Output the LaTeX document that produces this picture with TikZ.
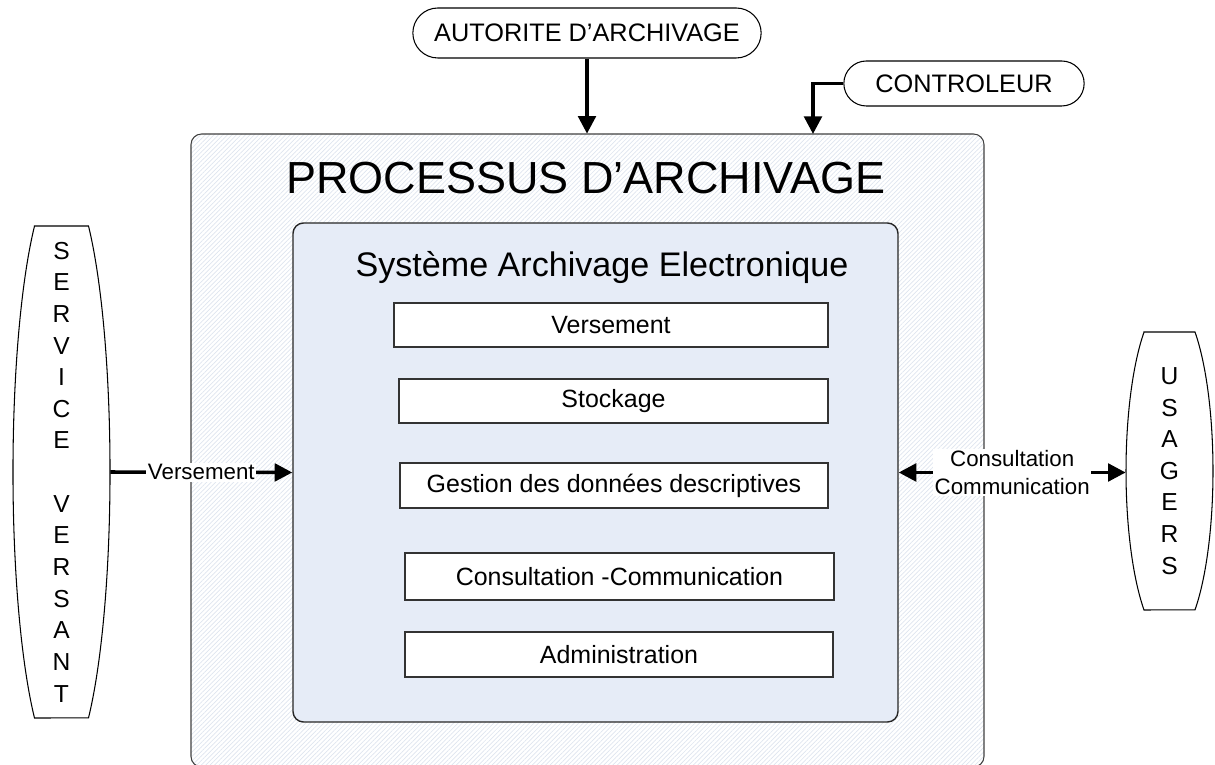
\documentclass[tikz,border=0pt]{standalone}
\usepackage{fontspec}
\setmainfont{Liberation Sans}
\usetikzlibrary{arrows.meta,shapes.misc,patterns.meta}

\definecolor{saeblue}{RGB}{230,236,247}
\definecolor{hatch}{RGB}{222,228,238}

\begin{document}
\begin{tikzpicture}[
  outerbox/.style={draw=black!75, line width=0.6pt, rounded corners=6pt,
    pattern={Lines[angle=45,distance=1.8pt,line width=0.4pt]}, pattern color=hatch},
  innerbox/.style={draw=black!85, line width=0.8pt, rounded corners=6pt, fill=saeblue},
  func/.style={draw=black!80, line width=0.6pt, fill=white, inner sep=0pt,
    font=\fontsize{14.2}{17}\selectfont},
  actor/.style={draw, line width=0.6pt, rounded rectangle, fill=white,
    font=\fontsize{14.4}{17}\selectfont},
  letters/.style={align=center, inner sep=0pt, font=\fontsize{14}{18}\selectfont},
  flow/.style={line width=2pt, -{Triangle[length=10pt,width=10pt]}},
  tag/.style={fill=white, inner sep=1pt, font=\fontsize{12.7}{15.5}\selectfont}
]
\useasboundingbox (0,0) rectangle (24.3,15.3);
%\draw[very thin,color=gray,step=1] (0,0) grid (24.3,15.3);

% process frame and the electronic archive system inside it
\node[outerbox, minimum width=15.86cm, minimum height=12.66cm] (proc) at (11.75,6.29) {};
\node[anchor=base, font=\fontsize{25.6}{30}\selectfont] (proctitle) at (11.72,11.42) {PROCESSUS D'ARCHIVAGE};
\node[innerbox, minimum width=12.10cm, minimum height=9.98cm] (sae) at (11.91,5.85) {};
\node[anchor=base, font=\fontsize{19.4}{23}\selectfont] (saetitle) at (12.04,9.76) {Système Archivage Electronique};

% functions
\node[func, minimum width=8.68cm, minimum height=0.88cm] (vers) at (12.22,8.80) {Versement};
\node[func, minimum width=8.58cm, minimum height=0.88cm] (stock) at (12.27,7.28) {Stockage};
\node[func, minimum width=8.56cm, minimum height=0.90cm] (gest) at (12.28,5.59) {Gestion des données descriptives};
\node[func, minimum width=8.58cm, minimum height=0.94cm] (consult) at (12.39,3.77) {Consultation -Communication};
\node[func, minimum width=8.56cm, minimum height=0.90cm] (admin) at (12.38,2.21) {Administration};

% actors
\node[actor, minimum width=7.2cm, minimum height=1.0cm] (auth) at (11.74,14.64) {AUTORITE D'ARCHIVAGE};
\node[actor, minimum width=5.04cm, minimum height=0.9cm] (ctrl) at (19.28,13.63) {CONTROLEUR};

\node[letters, minimum width=1.94cm, minimum height=9.84cm] (svc) at (1.23,5.86)
  {S\\E\\R\\V\\I\\C\\E\\[18pt]V\\E\\R\\S\\A\\N\\T};
\draw[line width=0.6pt, shift={(svc.center)}] (-0.54,4.92) -- (0.54,4.92)
  arc[start angle=56.2, end angle=-56.2, x radius=0.97, y radius=5.92] -- (-0.54,-4.92)
  arc[start angle=236.2, end angle=123.8, x radius=0.97, y radius=5.92] -- cycle;

\node[letters, minimum width=1.74cm, minimum height=5.56cm] (usr) at (23.39,5.88)
  {U\\S\\A\\G\\E\\R\\S};
\draw[line width=0.6pt, shift={(usr.center)}] (-0.51,2.78) -- (0.51,2.78)
  arc[start angle=54.1, end angle=-54.1, x radius=0.87, y radius=3.43] -- (-0.51,-2.78)
  arc[start angle=234.1, end angle=125.9, x radius=0.87, y radius=3.43] -- cycle;

% flows
\coordinate (ctrlin) at (16.26,12.62);
\draw[flow] (auth.south) -- (auth.south |- proc.north);
\draw[flow] (ctrl.west) -| (ctrlin);
\draw[flow] (svc.east) -- node[tag] (verstag) {Versement} (sae.west);
\draw[line width=2pt, {Triangle[length=10pt,width=10pt]}-{Triangle[length=10pt,width=10pt]}]
  (sae.east) -- node[tag, align=center] (commtag) {Consultation\\Communication} (sae.east -| usr.west);
\end{tikzpicture}
\end{document}
